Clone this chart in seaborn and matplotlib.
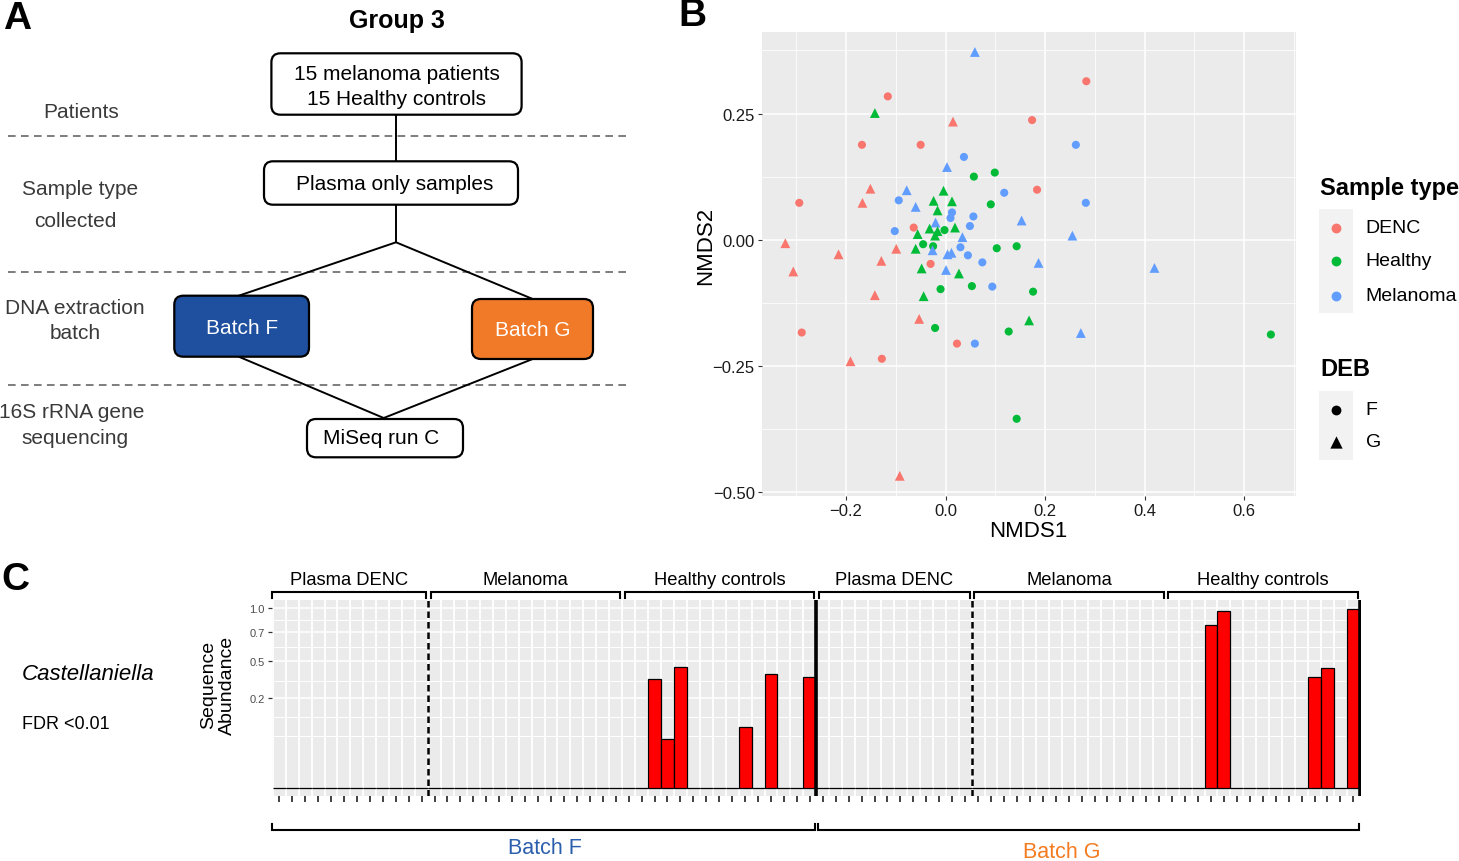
import numpy as np
import pandas as pd
import matplotlib
matplotlib.use("Agg")
import matplotlib.pyplot as plt
import seaborn as sns
from matplotlib.patches import FancyBboxPatch, Rectangle
from matplotlib.transforms import blended_transform_factory
from matplotlib.ticker import FixedLocator, FixedFormatter

plt.rcParams['font.family'] = ['Liberation Sans', 'DejaVu Sans']

# ---------------- Panel B data (NMDS ordination) ----------------
nmds1 = [0.059, 0.283, -0.116, -0.142, 0.015, 0.174, -0.168, -0.050, 0.262, 0.037,
         0.003, 0.057, 0.099, -0.151, -0.078, -0.004, 0.118, 0.184, -0.294, -0.167,
         -0.094, -0.060, -0.024, 0.013, 0.091, 0.282, -0.016, 0.013, 0.010, 0.056,
         0.153, -0.020, -0.102, -0.064, -0.032, -0.016, -0.021, -0.002, 0.019, 0.049,
         -0.056, 0.034, 0.255, -0.322,
         -0.215, -0.099, -0.060, -0.045, -0.025, -0.026, 0.030, 0.004, 0.012, 0.103,
         0.143, 0.045, -0.129, -0.030, 0.074, 0.187, 0.420, -0.306, -0.048, 0.001,
         0.027, 0.053, 0.094, -0.010, 0.176, -0.142, -0.044, -0.053, 0.168, -0.021,
         0.127, -0.289, 0.272, 0.654, 0.023, 0.059, -0.191, -0.128, 0.143, -0.092]
nmds2 = [0.372, 0.314, 0.284, 0.251, 0.234, 0.237, 0.188, 0.188, 0.188, 0.164,
         0.144, 0.125, 0.133, 0.101, 0.098, 0.097, 0.093, 0.099, 0.073, 0.073,
         0.078, 0.065, 0.077, 0.076, 0.070, 0.073, 0.058, 0.054, 0.043, 0.046,
         0.038, 0.034, 0.017, 0.024, 0.022, 0.017, 0.008, 0.019, 0.024, 0.027,
         0.011, 0.005, 0.008, -0.007,
         -0.029, -0.018, -0.018, -0.009, -0.013, -0.021, -0.015, -0.029, -0.026, -0.017,
         -0.013, -0.031, -0.042, -0.048, -0.045, -0.046, -0.056, -0.063, -0.057, -0.060,
         -0.067, -0.092, -0.093, -0.098, -0.103, -0.110, -0.112, -0.157, -0.160, -0.175,
         -0.182, -0.184, -0.185, -0.188, -0.206, -0.206, -0.241, -0.236, -0.355, -0.468]
sample_type = ["Melanoma", "DENC", "DENC", "Healthy", "DENC", "DENC", "DENC", "DENC", "Melanoma", "Melanoma",
               "Melanoma", "Healthy", "Healthy", "DENC", "Melanoma", "Healthy", "Melanoma", "DENC", "DENC", "DENC",
               "Melanoma", "Melanoma", "Healthy", "Healthy", "Healthy", "Melanoma", "Healthy", "Melanoma", "Melanoma", "Melanoma",
               "Melanoma", "Melanoma", "Melanoma", "DENC", "Healthy", "Healthy", "Healthy", "Healthy", "Healthy", "Melanoma",
               "Healthy", "Melanoma", "Melanoma", "DENC",
               "DENC", "DENC", "Healthy", "Healthy", "Healthy", "Melanoma", "Melanoma", "Melanoma", "Melanoma", "Healthy",
               "Healthy", "Melanoma", "DENC", "DENC", "Melanoma", "Melanoma", "Melanoma", "DENC", "Healthy", "Melanoma",
               "Healthy", "Healthy", "Melanoma", "Healthy", "Healthy", "DENC", "Healthy", "DENC", "Healthy", "Healthy",
               "Healthy", "DENC", "Melanoma", "Healthy", "DENC", "Melanoma", "DENC", "DENC", "Healthy", "DENC"]
deb = ["G", "F", "F", "G", "G", "F", "F", "F", "F", "F",
       "G", "F", "F", "G", "G", "G", "F", "F", "F", "G",
       "F", "G", "G", "G", "F", "F", "G", "F", "F", "F",
       "G", "G", "F", "F", "G", "G", "G", "F", "G", "F",
       "G", "G", "G", "G",
       "G", "G", "G", "F", "F", "G", "F", "G", "G", "F",
       "F", "F", "G", "F", "F", "G", "G", "G", "G", "G",
       "G", "F", "F", "F", "F", "G", "G", "G", "G", "F",
       "F", "F", "G", "F", "F", "F", "G", "F", "F", "G"]

type_order = ["DENC", "Healthy", "Melanoma"]
type_colors = ["#F8766D", "#00BA38", "#619CFF"]
deb_order = ["F", "G"]

# ---------------- Panel C data (Castellaniella abundance) ----------------
group_labels = ["Plasma DENC", "Melanoma", "Healthy controls"]
group_sizes = [12, 15, 15]
batch_labels = ["Batch F", "Batch G"]
batch_colors = ["#2B5EAD", "#F47B20"]
abund_batch_f = [0, 0, 0, 0, 0, 0, 0, 0, 0, 0, 0, 0,
                 0, 0, 0, 0, 0, 0, 0, 0, 0, 0, 0, 0, 0, 0, 0,
                 0, 0, 0.368, 0.075, 0.452, 0, 0, 0, 0, 0.115, 0, 0.403, 0, 0, 0.381]
abund_batch_g = [0, 0, 0, 0, 0, 0, 0, 0, 0, 0, 0, 0,
                 0, 0, 0, 0, 0, 0, 0, 0, 0, 0, 0, 0, 0, 0, 0,
                 0, 0, 0, 0.826, 0.966, 0, 0, 0, 0, 0, 0, 0.384, 0.448, 0, 0.992]
y_ticks_c = [0.25, 0.5, 0.75, 1.0]
y_tick_labels_c = ["0.2", "0.5", "0.7", "1.0"]

# ---------------- Figure ----------------
W, H = 1459, 862
fig = plt.figure(figsize=(W / 100, H / 100), dpi=100)


def px_axes(l, t, r, b):
    return fig.add_axes([l / W, 1 - b / H, (r - l) / W, (b - t) / H])


ov = fig.add_axes([0, 0, 1, 1])
ov.set_xlim(0, W)
ov.set_ylim(H, 0)
ov.axis('off')

# ---------------- Panel A (flow chart) ----------------
label_kw = dict(fontsize=15, color='#3a3a3a', ha='center', va='center')
ov.text(17, 19, "A", fontsize=28, fontweight='bold', ha='center', va='center')
ov.text(397, 21, "Group 3", fontsize=18, fontweight='bold', ha='center', va='center')

for yd in [136.7, 272.7, 385.7]:
    ov.plot([8, 629], [yd, yd], color='#5a5a5a', lw=1.1, ls=(0, (5, 3.5)))

line_kw = dict(color='black', lw=1.4, solid_capstyle='round')
ov.plot([396, 396], [115.7, 162.3], **line_kw)
ov.plot([396, 396], [205.7, 243.3], **line_kw)
ov.plot([238.8, 396, 532.7], [296.7, 243.3, 300], **line_kw)
ov.plot([238.8, 383.7, 532.7], [357.7, 419, 360], **line_kw)


def box(x0, y0, x1, y1, fc, text, tc='black', tx=None, ty=None, ls=1.2):
    p = FancyBboxPatch((x0, y0), x1 - x0, y1 - y0,
                       boxstyle="round,pad=0,rounding_size=9",
                       fc=fc, ec='black', lw=1.6, zorder=3)
    ov.add_patch(p)
    ov.text(tx if tx is not None else (x0 + x1) / 2,
            ty if ty is not None else (y0 + y1) / 2,
            text, fontsize=15, color=tc, ha='center', va='center',
            linespacing=ls, zorder=4)


box(271.4, 54.3, 521.6, 115.7, 'white', "15 melanoma patients\n15 Healthy controls",
    ty=87, ls=1.45)
box(264, 162.3, 518, 205.7, 'white', "Plasma only samples", tx=395, ty=185)
box(174.3, 296.7, 309, 357.7, '#1F4F9F', "Batch F", tc='white', tx=242.4, ty=328.5)
box(472, 300, 593, 360, '#F07A28', "Batch G", tc='white', tx=532.6, ty=330.5)
box(307, 420, 463, 458.3, 'white', "MiSeq run C", tx=380.8, ty=439)

ov.text(81.6, 112.7, "Patients", **label_kw)
ov.text(80, 189.5, "Sample type", **label_kw)
ov.text(75, 222, "collected", **label_kw)
ov.text(75, 308.3, "DNA extraction", **label_kw)
ov.text(75.3, 333.3, "batch", **label_kw)
ov.text(72, 412.7, "16S rRNA gene", **label_kw)
ov.text(75.5, 438.3, "sequencing", **label_kw)

# ---------------- Panel B (NMDS) ----------------
ov.text(692, 16, "B", fontsize=28, fontweight='bold', ha='center', va='center')
df_b = pd.DataFrame({'NMDS1': nmds1, 'NMDS2': nmds2,
                     'Sample type': sample_type, 'DEB': deb})
axB = px_axes(761.7, 33.3, 1295.5, 497)
axB.set_facecolor('#EBEBEB')
sns.scatterplot(data=df_b, x='NMDS1', y='NMDS2', hue='Sample type',
                hue_order=type_order, palette=type_colors, style='DEB',
                style_order=deb_order, markers={'F': 'o', 'G': '^'},
                size='DEB', sizes={'F': 34, 'G': 50},
                linewidth=0, legend=False, ax=axB, zorder=3)
axB.set_xlim(-0.3695, 0.7035)
axB.set_ylim(-0.508, 0.411)
axB.xaxis.set_major_locator(FixedLocator([-0.2, 0.0, 0.2, 0.4, 0.6]))
axB.xaxis.set_major_formatter(FixedFormatter(['\u22120.2', '0.0', '0.2', '0.4', '0.6']))
axB.xaxis.set_minor_locator(FixedLocator([-0.3, -0.1, 0.1, 0.3, 0.5, 0.7]))
axB.yaxis.set_major_locator(FixedLocator([-0.5, -0.25, 0.0, 0.25]))
axB.yaxis.set_major_formatter(FixedFormatter(['\u22120.50', '\u22120.25', '0.00', '0.25']))
axB.yaxis.set_minor_locator(FixedLocator([-0.375, -0.125, 0.125, 0.375]))
axB.grid(which='major', color='white', lw=1.1)
axB.grid(which='minor', color='white', lw=0.55)
axB.set_axisbelow(True)
for s in axB.spines.values():
    s.set_visible(False)
axB.tick_params(which='major', length=3, width=0.8, color='#333333',
                labelsize=12, labelcolor='#1a1a1a', pad=2)
axB.tick_params(which='minor', length=0)
axB.set_xlabel('')
axB.set_ylabel('')
ov.text(1028.6, 532, "NMDS1", fontsize=16, ha='center', va='center')
ov.text(706, 246, "NMDS2", fontsize=16, ha='center', va='center', rotation=90)

# legend
ov.text(1320, 188.3, "Sample type", fontsize=17, fontweight='bold', ha='left', va='center')
ov.add_patch(Rectangle((1319.3, 210), 34, 104, fc='#F2F2F2', ec='none'))
for lab, col, yy in zip(type_order, type_colors, [229, 261.7, 296.7]):
    ov.scatter([1336], [yy], s=50, color=col, marker='o', linewidths=0, zorder=3)
    ov.text(1365.7, yy, lab, fontsize=14, ha='left', va='center')
ov.text(1320, 370, "DEB", fontsize=17, fontweight='bold', ha='left', va='center')
ov.add_patch(Rectangle((1319.3, 391.7), 34, 69, fc='#F2F2F2', ec='none'))
for lab, mk, sz, yy in zip(deb_order, ['o', '^'], [50, 78], [410.7, 443]):
    ov.scatter([1336], [yy], s=sz, color='black', marker=mk, linewidths=0, zorder=3)
    ov.text(1365.7, yy, lab, fontsize=14, ha='left', va='center')

# ---------------- Panel C (bar chart) ----------------
ov.text(15, 580, "C", fontsize=28, fontweight='bold', ha='center', va='center')
ov.text(88, 675, "Castellaniella", fontsize=16, fontstyle='italic', ha='center', va='center')
ov.text(66, 725, "FDR <0.01", fontsize=13, ha='center', va='center')
ov.text(218, 685, "Sequence\nAbundance", fontsize=14, ha='center', va='center',
        rotation=90, linespacing=1.15)

abund = abund_batch_f + abund_batch_g
n_tot = len(abund)
df_c = pd.DataFrame({'sample': np.arange(n_tot), 'abund': abund})
axC = px_axes(271.5, 601.2, 1361.1, 797.4)
axC.set_facecolor('#EBEBEB')
sns.barplot(data=df_c, x='sample', y='abund', color='#FF0000', saturation=1,
            edgecolor='black', linewidth=0.9, width=1.0, errorbar=None, ax=axC,
            zorder=3)


def _fwd(v):
    v = np.asarray(v, dtype=float)
    return np.sign(v) * np.sqrt(np.abs(v))


def _inv(v):
    v = np.asarray(v, dtype=float)
    return np.sign(v) * v ** 2


axC.set_yscale('function', functions=(_fwd, _inv))
axC.set_ylim(-0.045 ** 2, 1.045 ** 2)
axC.set_xlim(-0.6, n_tot - 0.4)
axC.yaxis.set_major_locator(FixedLocator(y_ticks_c))
axC.yaxis.set_major_formatter(FixedFormatter(y_tick_labels_c))
axC.yaxis.set_minor_locator(FixedLocator([0.878, 0.619, 0.358, 0.155, 0.086]))
axC.xaxis.set_major_locator(FixedLocator(list(range(n_tot))))
axC.xaxis.set_minor_locator(FixedLocator([k + 0.5 for k in range(-1, n_tot)]))
axC.tick_params(axis='x', which='major', length=4, width=1.3, color='#333333',
                labelbottom=False)
axC.tick_params(axis='y', which='major', length=3, width=0.9, color='#333333',
                labelsize=8, labelcolor='#4D4D4D', pad=2)
axC.tick_params(which='minor', length=0)
axC.yaxis.grid(True, which='major', color='white', lw=1.1)
axC.yaxis.grid(True, which='minor', color='white', lw=0.7)
axC.xaxis.grid(True, which='minor', color='white', lw=1.3)
axC.xaxis.grid(False, which='major')
axC.set_axisbelow(True)
for s in axC.spines.values():
    s.set_visible(False)
axC.set_xlabel('')
axC.set_ylabel('')

n_batch = sum(group_sizes)
bounds = np.cumsum([0] + group_sizes)
for b in range(len(batch_labels)):
    off = b * n_batch
    axC.axvline(off + bounds[1] - 0.5, color='black', lw=1.8, ls=(0, (2.6, 1.6)), zorder=5)
    axC.axvline(off + n_batch - 0.5, color='black', lw=2.6, zorder=5)

trC = blended_transform_factory(axC.transData, axC.transAxes)
for b in range(len(batch_labels)):
    off = b * n_batch
    for g, lab in enumerate(group_labels):
        s0 = off + bounds[g] - 0.3
        s1 = off + bounds[g + 1] - 1 + 0.35
        if b == 0 and g == 0:
            s0 = -0.55
        axC.plot([s0, s0, s1, s1], [1.009, 1.040, 1.040, 1.009], color='black',
                 lw=1.5, transform=trC, clip_on=False, solid_joinstyle='miter')
        axC.text((s0 + s1) / 2, 1.108, lab, fontsize=13.2, ha='center',
                 va='center', transform=trC)
    b0 = off - 0.55 if b == 0 else off - 0.37
    b1 = off + n_batch - 0.6 if b == 0 else off + n_batch - 0.55
    axC.plot([b0, b0, b1, b1], [-0.141, -0.172, -0.172, -0.141], color='black',
             lw=1.5, transform=trC, clip_on=False, solid_joinstyle='miter')

ov.text(545, 849, batch_labels[0], fontsize=15.5, color=batch_colors[0], ha='center', va='center')
ov.text(1062, 853, batch_labels[1], fontsize=15.5, color=batch_colors[1], ha='center', va='center')

fig.savefig('out.png', dpi=100)
